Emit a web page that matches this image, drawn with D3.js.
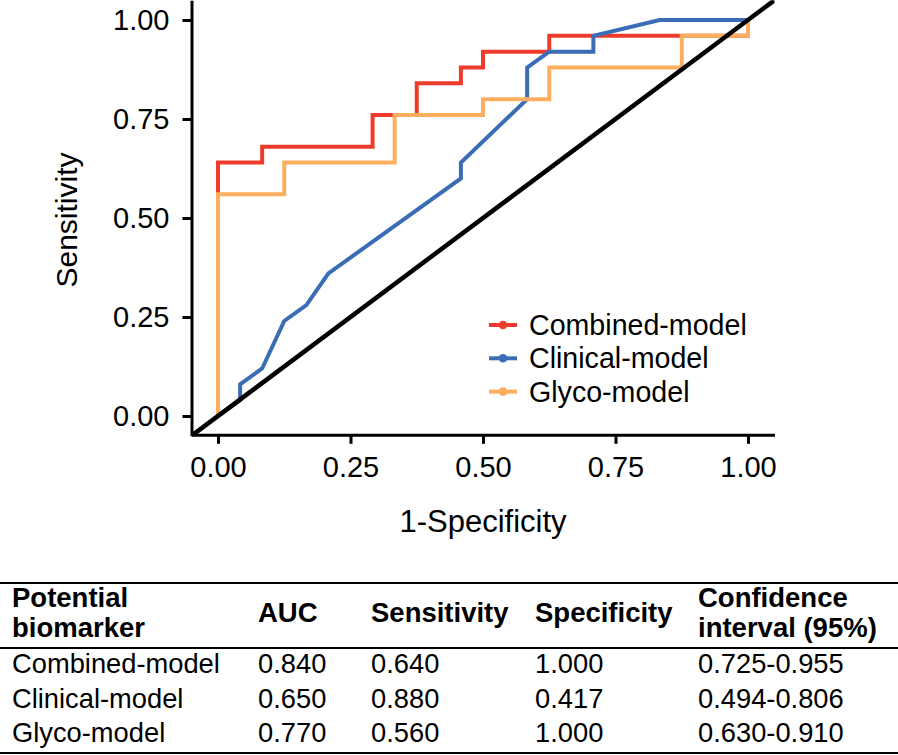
<!DOCTYPE html>
<html>
<head>
<meta charset="utf-8">
<script src="https://cdn.jsdelivr.net/npm/d3@7"></script>
<style>
  html, body { margin: 0; padding: 0; background: #fff; }
  svg { display: block; font-family: "Liberation Sans", Arial, sans-serif; }
</style>
</head>
<body>
<svg id="chart" width="898" height="755"></svg>
<script>
// ---------------- data ----------------
const modelNames = ["Combined-model", "Clinical-model", "Glyco-model"];
const modelColors = ["#ef3b2c", "#3a6db5", "#fdae5e"];

// ROC curve coordinates (1-Specificity, Sensitivity)
const combinedFPR = [0, 0, 0.0833, 0.0833, 0.2917, 0.2917, 0.375, 0.375, 0.4583, 0.4583, 0.5, 0.5, 0.625, 0.625, 1.0, 1.0];
const combinedTPR = [0, 0.64, 0.64, 0.68, 0.68, 0.76, 0.76, 0.84, 0.84, 0.88, 0.88, 0.92, 0.92, 0.96, 0.96, 1.0];

const clinicalFPR = [0, 0.0417, 0.0417, 0.0833, 0.125, 0.1667, 0.2083, 0.4583, 0.4583, 0.5833, 0.5833, 0.625, 0.7083, 0.7083, 0.8333, 1.0];
const clinicalTPR = [0, 0.04, 0.08, 0.12, 0.24, 0.28, 0.36, 0.60, 0.64, 0.80, 0.88, 0.92, 0.92, 0.96, 1.0, 1.0];

const glycoFPR = [0, 0, 0.125, 0.125, 0.3333, 0.3333, 0.5, 0.5, 0.625, 0.625, 0.875, 0.875, 1.0, 1.0];
const glycoTPR = [0, 0.56, 0.56, 0.64, 0.64, 0.76, 0.76, 0.80, 0.80, 0.88, 0.88, 0.96, 0.96, 1.0];

const xTicks = [0, 0.25, 0.5, 0.75, 1.0];
const yTicks = [0, 0.25, 0.5, 0.75, 1.0];
const xTitle = "1-Specificity";
const yTitle = "Sensitivity";

// table
const tableHeaders = [["Potential", "biomarker"], ["AUC"], ["Sensitivity"], ["Specificity"], ["Confidence", "interval (95%)"]];
const aucValues = ["0.840", "0.650", "0.770"];
const sensValues = ["0.640", "0.880", "0.560"];
const specValues = ["1.000", "0.417", "1.000"];
const ciValues = ["0.725-0.955", "0.494-0.806", "0.630-0.910"];

// ---------------- chart ----------------
const svg = d3.select("#chart");
const font = "'Liberation Sans', Arial, sans-serif";

const x = d3.scaleLinear().domain([-0.05, 1.05]).range([191.5, 774.5]);
const y = d3.scaleLinear().domain([-0.05, 1.05]).range([435.8, 0.2]);

const series = [
  { name: modelNames[0], color: modelColors[0], pts: d3.zip(combinedFPR, combinedTPR) },
  { name: modelNames[1], color: modelColors[1], pts: d3.zip(clinicalFPR, clinicalTPR) },
  { name: modelNames[2], color: modelColors[2], pts: d3.zip(glycoFPR, glycoTPR) }
];

svg.append("defs").append("clipPath").attr("id", "panel")
  .append("rect").attr("x", x(-0.05)).attr("y", y(1.05))
  .attr("width", x(1.05) - x(-0.05)).attr("height", y(-0.05) - y(1.05));

const line = d3.line().x(d => x(d[0])).y(d => y(d[1]));

const g = svg.append("g").attr("clip-path", "url(#panel)");
g.selectAll("path.roc").data(series).join("path")
  .attr("class", "roc")
  .attr("d", d => line(d.pts))
  .attr("fill", "none")
  .attr("stroke", d => d.color)
  .attr("stroke-width", 4)
  .attr("stroke-linejoin", "miter");

// diagonal reference line
g.append("path")
  .attr("d", line([[-0.05, -0.05], [1.05, 1.05]]))
  .attr("stroke", "#000").attr("stroke-width", 4.5).attr("fill", "none");

// axes
const xAxis = svg.append("g").attr("transform", `translate(0,${y(-0.05) - 1})`)
  .call(d3.axisBottom(x).tickValues(xTicks).tickFormat(d3.format(".2f")).tickSize(9).tickSizeOuter(0).tickPadding(13));
const yAxis = svg.append("g").attr("transform", `translate(${x(-0.05)},0)`)
  .call(d3.axisLeft(y).tickValues(yTicks).tickFormat(d3.format(".2f")).tickSize(9).tickSizeOuter(0).tickPadding(13));

[xAxis, yAxis].forEach(a => {
  a.select(".domain").attr("stroke", "#000").attr("stroke-width", 3);
  a.selectAll(".tick line").attr("stroke", "#000").attr("stroke-width", 3);
  a.selectAll(".tick text").attr("fill", "#000").style("font-family", font).style("font-size", "29px");
});

svg.append("text").attr("x", 483).attr("y", 521).attr("dy", "0.35em")
  .attr("text-anchor", "middle").style("font-size", "31px").style("font-family", font)
  .text(xTitle);
svg.append("text").attr("transform", "translate(66,220) rotate(-90)").attr("dy", "0.35em")
  .attr("text-anchor", "middle").style("font-size", "30px").style("font-family", font)
  .text(yTitle);

// legend
const leg = svg.append("g");
series.forEach((s, i) => {
  const cy = 325 + i * 33.3;
  leg.append("line").attr("x1", 489).attr("x2", 517).attr("y1", cy).attr("y2", cy)
    .attr("stroke", s.color).attr("stroke-width", 4);
  leg.append("circle").attr("cx", 503).attr("cy", cy).attr("r", 4.3).attr("fill", s.color);
  leg.append("text").attr("x", 529).attr("y", cy).attr("dy", "0.35em")
    .style("font-size", "28.6px").style("font-family", font).text(s.name);
});

// ---------------- table ----------------
const colX = [12, 258, 371, 535, 698];
const tbl = svg.append("g").style("font-family", font);
[583, 648, 753].forEach(yy => {
  tbl.append("line").attr("x1", 0).attr("x2", 898).attr("y1", yy).attr("y2", yy)
    .attr("stroke", "#000").attr("stroke-width", 2.2);
});
tableHeaders.forEach((h, i) => {
  const t = tbl.append("text").attr("x", colX[i]).style("font-weight", "bold").style("font-size", "27.5px");
  if (h.length === 2) {
    t.append("tspan").attr("x", colX[i]).attr("y", 607).text(h[0]);
    t.append("tspan").attr("x", colX[i]).attr("y", 637).text(h[1]);
  } else {
    t.attr("y", 622).text(h[0]);
  }
});
const rowY = [673, 707.5, 742];
modelNames.forEach((name, r) => {
  const cells = [name, aucValues[r], sensValues[r], specValues[r], ciValues[r]];
  cells.forEach((c, i) => {
    tbl.append("text").attr("x", colX[i]).attr("y", rowY[r]).style("font-size", "27.3px").text(c);
  });
});
</script>
</body>
</html>
